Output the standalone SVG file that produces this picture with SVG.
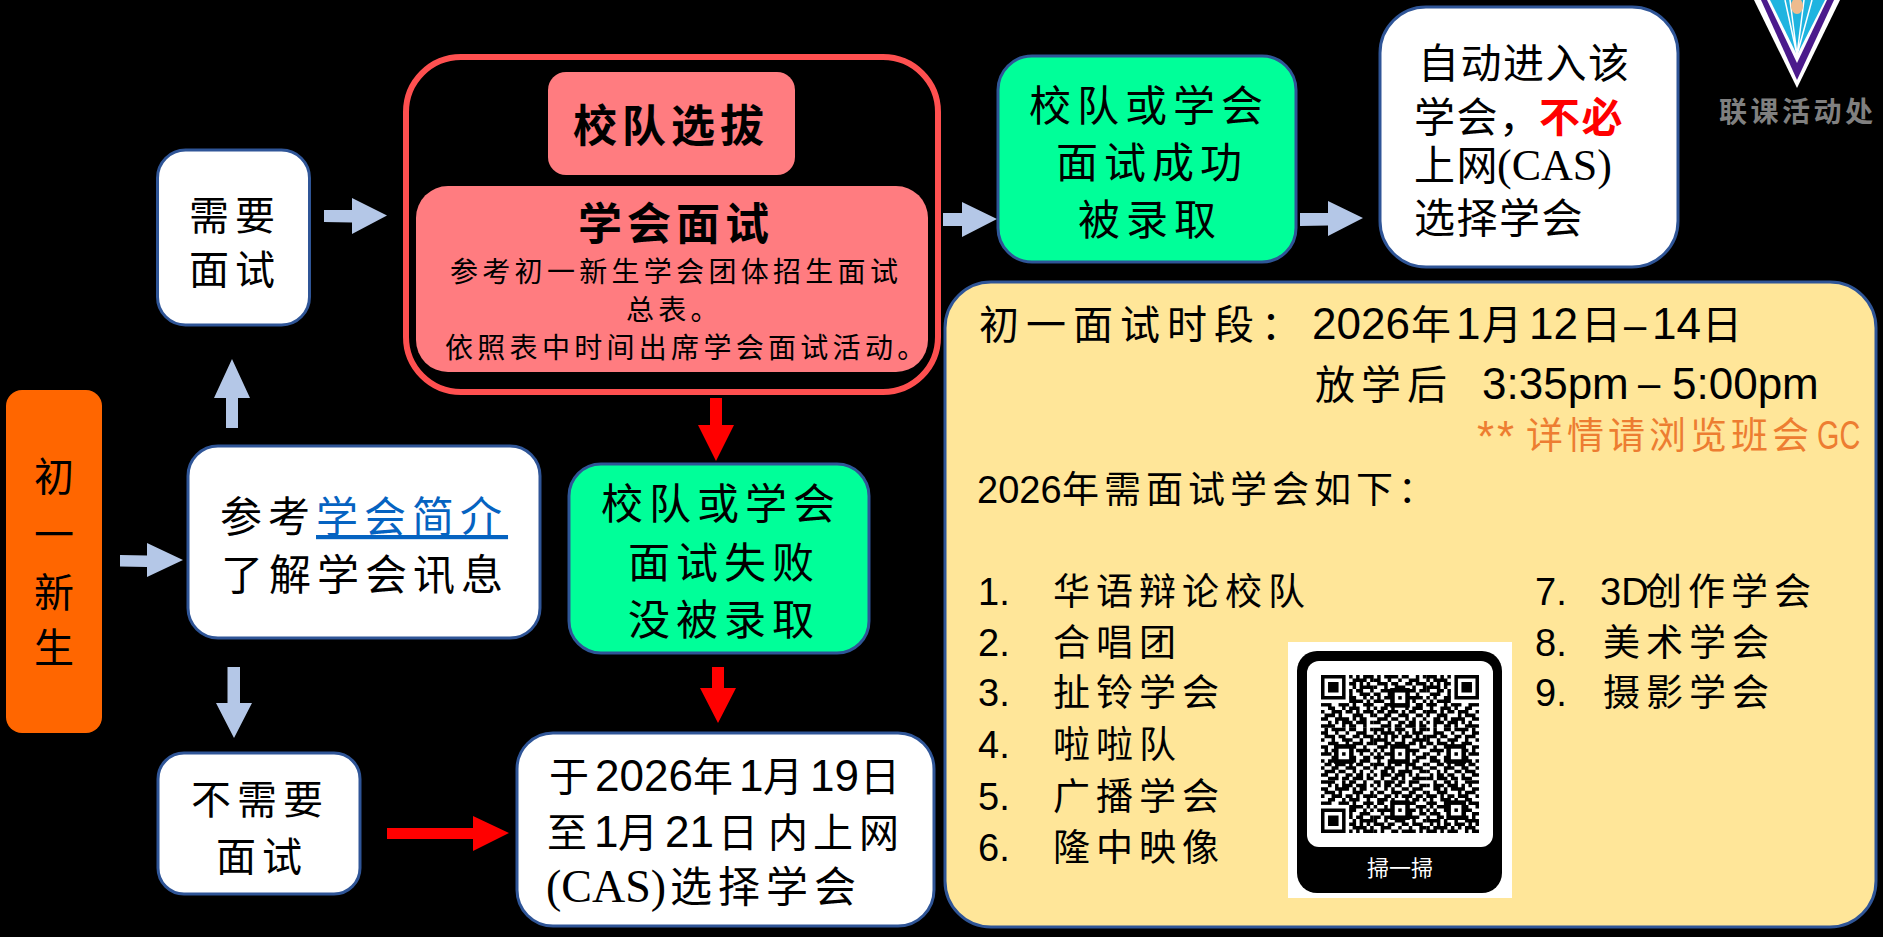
<svg xmlns="http://www.w3.org/2000/svg" width="1883" height="937" viewBox="0 0 1883 937">
<style>
text{font-family:"Liberation Serif","Noto Sans CJK SC",serif;fill:#000;white-space:pre}
.b{stroke:#2f5597;stroke-width:3}
.w{fill:#fff}.g{fill:#00ff99}.p{fill:#ff7c80}
.t40{font-size:40px;letter-spacing:6px}
.t42{font-size:42px;letter-spacing:6px}
.t41{font-size:41px;letter-spacing:1.500px}
.s{font-size:28px;letter-spacing:4.300px}
.h{font-size:44px;letter-spacing:5px;font-weight:700}
.n,.n text,text.n{font-family:"Liberation Sans","Noto Sans CJK SC",sans-serif}
.f{font-size:40px}
.d{font-size:44px;letter-spacing:0}
.l{font-size:37px;letter-spacing:6px}
.m{font-size:38px;letter-spacing:0}
.blue{fill:#b4c7e7}.red{fill:#f00}
.q{fill:none;stroke:#000;stroke-width:1}
</style>
<defs>
<path id="tA" d="M0 .5h2M3 .5h1M6 .5h3M10 .5h1M12 .5h3M1 1.5h3M5 1.5h1M7 1.5h1M9 1.5h4M14 1.5h1M0 2.5h1M2 2.5h1M4 2.5h3M8 2.5h2M11 2.5h1M13 2.5h1M0 3.5h4M6 3.5h1M9 3.5h1M11 3.5h4M1 4.5h1M3 4.5h2M6 4.5h3M10 4.5h2M14 4.5h1M0 5.5h2M5 5.5h2M8 5.5h1M11 5.5h3M2 6.5h4M7 6.5h3M12 6.5h1M14 6.5h1M0 7.5h1M3 7.5h1M5 7.5h1M8 7.5h4M13 7.5h1M0 8.5h3M5 8.5h3M9 8.5h1M12 8.5h3M2 9.5h2M6 9.5h1M8 9.5h3M13 9.5h1M0 10.5h1M3 10.5h3M7 10.5h2M10 10.5h1M12 10.5h3M1 11.5h3M5 11.5h1M9 11.5h3M14 11.5h1M0 12.5h2M4 12.5h4M9 12.5h1M11 12.5h2M2 13.5h1M4 13.5h1M6 13.5h3M10 13.5h3M14 13.5h1M0 14.5h4M6 14.5h1M8 14.5h2M12 14.5h1"/>
<path id="tB" d="M1 .5h1M3 .5h4M8 .5h2M12 .5h1M14 .5h1M0 1.5h2M4 1.5h1M7 1.5h1M10 1.5h3M1 2.5h3M5 2.5h2M9 2.5h2M12 2.5h3M0 3.5h1M3 3.5h1M6 3.5h3M11 3.5h1M14 3.5h1M2 4.5h3M7 4.5h1M9 4.5h3M13 4.5h2M0 5.5h2M4 5.5h2M8 5.5h2M12 5.5h1M1 6.5h1M3 6.5h2M6 6.5h2M10 6.5h4M0 7.5h3M5 7.5h1M8 7.5h1M11 7.5h1M14 7.5h1M3 8.5h2M6 8.5h4M12 8.5h2M0 9.5h1M2 9.5h2M5 9.5h1M9 9.5h1M11 9.5h3M1 10.5h2M4 10.5h3M8 10.5h1M10 10.5h2M14 10.5h1M0 11.5h1M3 11.5h2M7 11.5h3M12 11.5h2M1 12.5h3M5 12.5h2M9 12.5h1M11 12.5h1M14 12.5h1M0 13.5h2M4 13.5h1M7 13.5h2M10 13.5h2M13 13.5h1M2 14.5h3M6 14.5h2M9 14.5h3M13 14.5h2"/>
<g id="finder"><rect x="-1" y="-1" width="9" height="9" fill="#fff"/><path d="M0 0h7v7H0zM1 1v5h5V1zM2 2h3v3H2z" fill="#000" fill-rule="evenodd"/></g>
<g id="align"><rect x="-.3" y="-.3" width="5.6" height="5.6" fill="#000"/><rect x="1" y="1" width="3" height="3" fill="#fff"/><rect x="2" y="2" width="1" height="1" fill="#000"/></g>
</defs>
<rect width="1883" height="937" fill="#000"/>

<g id="connectors">
<polygon class="blue" points="120,555 147,555.500 147,543 183,560 147,577 147,567 120,566.500"/>
<polygon class="blue" points="226,428 226,398 214,398 232,359 250,398 238,398 238,428"/>
<polygon class="blue" points="227.500,667 240,667 240,703 252,703 234,738 216,703 227.500,703"/>
<polygon class="blue" points="324,210 352,210 352,198 387,215.500 352,234 352,222.500 324,222"/>
<polygon class="blue" points="943,213 962,213 962,202 997,219 962,237 962,226 943,226"/>
<polygon class="blue" points="1300,213 1328,213 1328,201 1363,218 1328,236 1328,225.500 1300,226"/>
<polygon class="red" points="710,398 722,398 722,425 734,425 716,461 698,425 710,425"/>
<polygon class="red" points="712,667 724,667 724,688 736,688 718,723 700,688 712,688"/>
<polygon class="red" points="387,828 473,828 473,816 509,833 473,851 473,839 387,839"/>
</g>

<g id="node-new">
<rect x="6" y="390" width="96" height="343" rx="16" fill="#ff6600"/>
<text class="f" x="34" y="491">初</text><text class="f" x="34" y="549">一</text><text class="f" x="34" y="607">新</text><text class="f" x="34" y="662">生</text>
</g>
<g id="node-info">
<rect class="b w" x="188" y="446" width="352" height="192" rx="30"/>
<text class="t42" x="220" y="532" letter-spacing="5.500">参考<tspan fill="#0563c1" text-decoration="underline">学会简介</tspan></text>
<text class="t42" x="221" y="590">了解学会讯息</text>
</g>
<g id="node-need">
<rect class="b w" x="157.500" y="150" width="152" height="175" rx="28"/>
<text class="t40" x="189" y="230">需要</text><text class="t40" x="189" y="284">面试</text>
</g>
<g id="node-noneed">
<rect class="b w" x="158" y="753" width="202" height="141" rx="26"/>
<text class="t40" x="191" y="814">不需要</text><text class="t40" x="216" y="871">面试</text>
</g>
<g id="node-selection">
<rect x="406" y="57" width="532" height="335" rx="55" fill="none" stroke="#ff5050" stroke-width="6"/>
<rect class="p" x="548" y="72" width="247" height="103" rx="18"/>
<text class="h" x="573" y="142">校队选拔</text>
<rect class="p" x="416" y="186" width="512" height="186" rx="32"/>
<text class="h" x="578" y="240">学会面试</text>
<text class="s" x="450" y="282">参考初一新生学会团体招生面试</text>
<text class="s" x="626" y="320">总表。</text>
<text class="s" x="445" y="358">依照表中时间出席学会面试活动。</text>
</g>
<g id="node-success">
<rect class="b g" x="998" y="56" width="298" height="206" rx="34"/>
<text class="t42" x="1029" y="121">校队或学会</text>
<text class="t42" x="1056" y="178">面试成功</text>
<text class="t42" x="1078" y="235">被录取</text>
</g>
<g id="node-auto">
<rect class="b w" x="1380" y="7" width="298" height="260" rx="46"/>
<text class="t41" x="1418" y="78">自动进入该</text>
<text class="t41" x="1414" y="132">学会，<tspan fill="#f00" font-weight="700" x="1539">不必</tspan></text>
<text class="t41" x="1414" y="180">上网<tspan font-size="44" letter-spacing="0" x="1497">(CAS)</tspan></text>
<text class="t41" x="1414" y="233">选择学会</text>
</g>
<g id="node-fail">
<rect class="b g" x="569" y="464" width="300" height="189" rx="32"/>
<text class="t42" x="601" y="519">校队或学会</text>
<text class="t42" x="628" y="578">面试失败</text>
<text class="t42" x="628" y="635">没被录取</text>
</g>
<g id="node-cas">
<rect class="b w" x="517" y="733" width="417" height="193" rx="36"/>
<text class="t40 n" x="549" y="791">于<tspan x="595" class="d">2026</tspan><tspan x="693">年</tspan><tspan x="739" class="d">1</tspan><tspan x="763">月</tspan><tspan x="810" class="d">19</tspan><tspan x="860">日</tspan></text>
<text class="t40 n" x="547" y="847">至<tspan x="594" class="d">1</tspan><tspan x="618">月</tspan><tspan x="665" class="d">21</tspan><tspan x="718">日</tspan><tspan x="768">内</tspan><tspan x="813">上</tspan><tspan x="859">网</tspan></text>
<text class="t42" x="546" y="902"><tspan font-size="46" letter-spacing="0">(CAS)</tspan><tspan x="670">选择学会</tspan></text>
</g>

<g id="node-panel">
<rect x="945" y="282" width="931" height="645" rx="46" fill="#ffe699" stroke="#2f5597" stroke-width="3"/>
<g class="n">
<text class="f" x="979" y="339" letter-spacing="7">初一面试时段：</text>
<text class="f" y="339"><tspan x="1312" class="d">2026</tspan><tspan x="1411">年</tspan><tspan x="1456" class="d">1</tspan><tspan x="1482">月</tspan><tspan x="1529" class="d">12</tspan><tspan x="1581">日</tspan><tspan x="1624">–</tspan><tspan x="1652" class="d">14</tspan><tspan x="1702">日</tspan></text>
<text class="f" x="1315" y="399" letter-spacing="6">放学后</text>
<text class="d" x="1482" y="399">3:35pm</text>
<text class="f" x="1638" y="397">–</text>
<text class="d" x="1672" y="399">5:00pm</text>
<text x="1477" y="452" font-size="44" letter-spacing="3" style="fill:#ed7d31">**</text>
<text x="1526" y="449" font-size="37" letter-spacing="4" style="fill:#ed7d31">详情请浏览班会</text>
<text transform="translate(1817 449) scale(.72 1)" font-size="40" style="fill:#ed7d31">GC</text>
<text x="977" y="503" font-size="37" letter-spacing="5"><tspan font-size="38" letter-spacing="0">2026</tspan><tspan x="1062">年需面试学会如下：</tspan></text>
<text class="l" x="978" y="605"><tspan class="m">1.</tspan><tspan x="1053">华语辩论校队</tspan></text>
<text class="l" x="978" y="656"><tspan class="m">2.</tspan><tspan x="1053">合唱团</tspan></text>
<text class="l" x="978" y="706"><tspan class="m">3.</tspan><tspan x="1053">扯铃学会</tspan></text>
<text class="l" x="978" y="758"><tspan class="m">4.</tspan><tspan x="1053">啦啦队</tspan></text>
<text class="l" x="978" y="810"><tspan class="m">5.</tspan><tspan x="1053">广播学会</tspan></text>
<text class="l" x="978" y="861"><tspan class="m">6.</tspan><tspan x="1053">隆中映像</tspan></text>
<text class="l" x="1535" y="605" letter-spacing="5"><tspan class="m">7.</tspan><tspan class="m" x="1600">3D</tspan><tspan x="1645">创作学会</tspan></text>
<text class="l" x="1535" y="656" letter-spacing="5"><tspan class="m">8.</tspan><tspan x="1603">美术学会</tspan></text>
<text class="l" x="1535" y="706" letter-spacing="5"><tspan class="m">9.</tspan><tspan x="1603">摄影学会</tspan></text>
</g>
</g>

<g id="qr">
<rect x="1288" y="642" width="224" height="256" fill="#fff"/>
<rect x="1297" y="651" width="205" height="242" rx="20" fill="#000"/>
<rect x="1307" y="661" width="186" height="186" rx="12" fill="#fff"/>
<g transform="translate(1321 675) scale(3.511)">
<use href="#tA" class="q"/>
<use href="#tB" class="q" x="15"/>
<use href="#tA" class="q" transform="translate(45 0) scale(-1 1)"/>
<use href="#tB" class="q" y="15"/>
<use href="#tA" class="q" transform="translate(30 15) scale(-1 1)"/>
<use href="#tB" class="q" transform="translate(45 15) scale(-1 1)"/>
<use href="#tA" class="q" transform="translate(0 45) scale(1 -1)"/>
<use href="#tB" class="q" transform="translate(30 45) scale(-1 -1)"/>
<use href="#tA" class="q" transform="translate(45 45) scale(-1 -1)"/>
<use href="#finder"/><use href="#finder" x="38"/><use href="#finder" y="38"/>
<use href="#align" x="20" y="4"/><use href="#align" x="4" y="20"/><use href="#align" x="20" y="20"/><use href="#align" x="36" y="20"/><use href="#align" x="20" y="36"/><use href="#align" x="36" y="36"/>
</g>
<text x="1400" y="876" font-size="22" text-anchor="middle" style="fill:#fff;font-family:'Noto Sans CJK TC',sans-serif">掃一掃</text>
</g>

<g id="logo">
<polygon points="1754,0 1840,0 1797,88" fill="#fff"/>
<polygon points="1761,0 1834,0 1797,80" fill="#4b1a8c"/>
<polygon points="1767,0 1827,0 1797,63" fill="#fff"/>
<polygon points="1770,0 1825,0 1797,55" fill="#1fb4e0"/>
<path d="M1797 55L1785 0M1797 55L1790 0M1797 55L1804 0M1797 55L1812 0" stroke="#fff" stroke-width="1.500" fill="none"/>
<ellipse cx="1797" cy="6" rx="6" ry="8" fill="#eebb8e"/>
<text x="1719" y="122" font-size="28" font-weight="700" letter-spacing="3.500" style="fill:#808080">联课活动处</text>
</g>
</svg>
